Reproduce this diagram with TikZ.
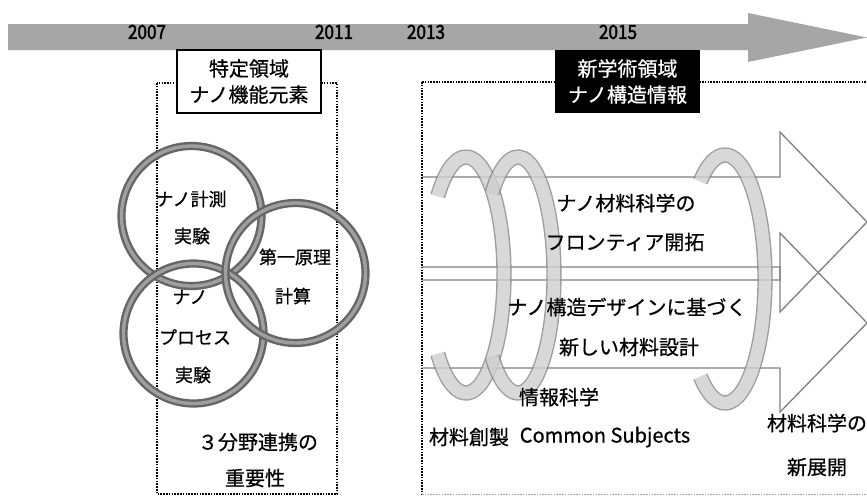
\documentclass[tikz,border=0pt]{standalone}
\usepackage{fontspec}
\setmainfont{Noto Sans CJK JP}[FakeBold=0.6]
\newfontfamily\yearfont[FakeBold=2.2]{Noto Sans CJK JP}
\newcommand{\yr}[1]{\scalebox{0.88}[1]{#1}}
\begin{document}
\begin{tikzpicture}[x=1pt,y=-1pt,
  txt/.style={font=\fontsize{20}{26}\selectfont, inner sep=0pt, align=center},
  ctxt/.style={font=\fontsize{18}{22}\selectfont, inner sep=0pt, align=center},
  yeartxt/.style={font=\yearfont\fontsize{19.5}{20}\selectfont, inner sep=0pt},
  dotbox/.style={draw=black, line width=1.6pt, dash pattern=on 1.5pt off 1.3pt},
  ringnode/.style={circle, inner sep=0pt, minimum size=140pt, draw=black!60, double=gray!75, line width=2.4pt, double distance=3.4pt},
  tube/.style={draw=gray!95, double=gray!38, line width=1.4pt, double distance=12.5pt, line cap=butt},
  arrowline/.style={draw=gray, line width=1.3pt, line join=miter},
  labelbox/.style={draw=black, line width=1.4pt, fill=white, minimum width=144pt, minimum height=63pt, inner sep=0pt, align=center, font=\fontsize{20}{26}\selectfont},
  blackbox/.style={fill=black, text=white, minimum width=145pt, minimum height=63pt, inner sep=0pt, align=center, font=\fontsize{20}{26}\selectfont}
]
\useasboundingbox[fill=white] (0,0) rectangle (867,496);

% dotted frames
\draw[dotbox] (157,83) rectangle (337,494);
\draw[dotbox] (422,82) -- (880,82);
\draw[dotbox] (422,82) -- (422,494);
\draw[dotbox, draw=gray!70, line width=1pt] (422,494) -- (880,494);

% timeline arrow
\fill[gray!70] (8,24) -- (748,24) -- (748,13) -- (867,37.5) -- (748,62) -- (748,50) -- (8,50) -- cycle;
\node[yeartxt] (y2007) at (147,32) {\yr{2007}};
\node[yeartxt] (y2011) at (334,32) {\yr{2011}};
\node[yeartxt] (y2013) at (426,32) {\yr{2013}};
\node[yeartxt] (y2015) at (618,32) {\yr{2015}};

% label boxes
\node[labelbox] (tokutei) at (249,81.5) {特定領域\\ナノ機能元素};
\node[blackbox] (shingaku) at (627.5,81.5) {新学術領域\\ナノ構造情報};

% outline arrows
\draw[arrowline] (422,177) -- (780,177) -- (780,132) -- (867,222) -- (780,312) -- (780,267) -- (422,267);
\draw[arrowline] (422,280) -- (780,280) -- (780,233) -- (867,323) -- (780,412) -- (780,368) -- (422,368);

% rings on the left
\node[ringnode] (r1) at (191.5,216) {};
\node[ringnode] (r3) at (193.5,333.5) {};
\node[ringnode] (r2) at (295.5,273) {};

% tubes (coil)
\begin{scope}[transparency group, opacity=0.8]
\draw[tube] (466,275) ++(138:38 and 118) arc[start angle=138, end angle=-138, x radius=38, y radius=118];
\end{scope}
\begin{scope}[transparency group, opacity=0.8]
\draw[tube] (518,275) ++(136:36 and 118) arc[start angle=136, end angle=-136, x radius=36, y radius=118];
\end{scope}
\begin{scope}[transparency group, opacity=0.8]
\draw[tube] (725,279) ++(128:40 and 124) arc[start angle=128, end angle=-128, x radius=40, y radius=124];
\end{scope}

% ring texts
\node[ctxt] (t1a) at (191,199) {ナノ計測};
\node[ctxt] (t1b) at (192,236) {実験};
\node[ctxt] (t2a) at (295,257) {第一原理};
\node[ctxt] (t2b) at (293,296) {計算};
\node[ctxt] (t3a) at (190,297) {ナノ};
\node[ctxt] (t3b) at (195,337) {プロセス};
\node[ctxt] (t3c) at (193,375) {実験};
\node[txt] (t4a) at (258,442) {３分野連携の};
\node[txt] (t4b) at (255,478) {重要性};

% right texts
\node[txt] (m1) at (626,203) {ナノ材料科学の};
\node[txt] (m2) at (625,242) {フロンティア開拓};
\node[txt] (m3) at (627,307) {ナノ構造デザインに基づく};
\node[txt] (m4) at (629,347) {新しい材料設計};
\node[txt] (m5) at (559,397) {情報科学};
\node[txt] (m6) at (469,437) {材料創製};
\node[txt] (m7) at (605,437) {Common Subjects};
\node[txt] (m8) at (817,423) {材料科学の};
\node[txt] (m9) at (817,467) {新展開};
\end{tikzpicture}
\end{document}
